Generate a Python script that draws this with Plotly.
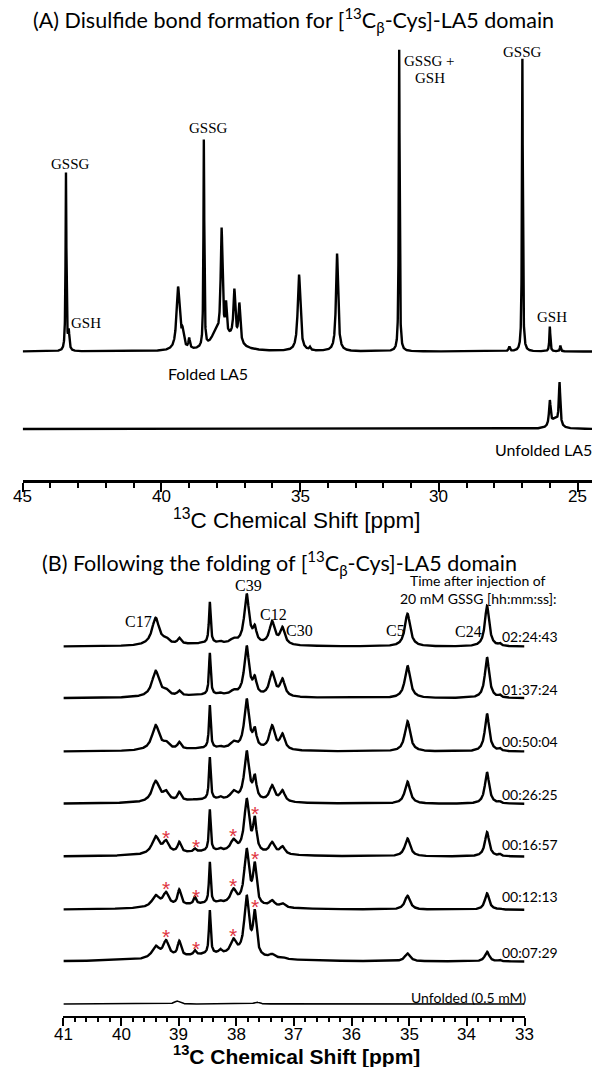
import numpy as np
import plotly.graph_objects as go

W, H = 592, 1067

# ---------------- Panel A data ----------------
A_x_range = [45.0, 24.48]
# Folded LA5 + glutathione peaks: position (ppm), apparent height, line width (ppm)
A_fold_ppm    = [43.44, 43.34, 39.40, 39.24, 39.00, 38.47, 37.83, 37.67, 37.37, 37.19, 35.04, 34.65, 33.67, 31.43, 27.46, 26.99, 26.00, 25.62]
A_fold_height = [179,   23,    65,    25,    14,    213,   124,   51,    63,    49,    77,    5,     98,    302,   5,     294,   25,    6]
A_fold_width  = [0.035, 0.05,  0.13,  0.10,  0.06,  0.035, 0.08,  0.06,  0.08,  0.08,  0.11,  0.06,  0.09,  0.035, 0.06,  0.035, 0.04,  0.04]
A_fold_broad_ppm    = [38.05, 37.50]
A_fold_broad_height = [14, 12]
A_fold_broad_width  = [0.40, 0.70]

# Unfolded LA5 peaks
A_unf_ppm    = [26.00, 25.65]
A_unf_height = [29, 47]
A_unf_width  = [0.07, 0.06]
A_unf_broad_ppm    = [25.82]
A_unf_broad_height = [9]
A_unf_broad_width  = [0.30]

A_ticks = [45, 40, 35, 30, 25]

# ---------------- Panel B data ----------------
B_x_range = [41.0, 33.0]
B_ppm   = [39.40, 39.22, 38.99, 38.72, 38.46, 38.28, 38.05, 37.82, 37.68, 37.38, 37.20, 35.03, 33.65, 33.43]
B_width = [0.15,  0.12,  0.07,  0.05,  0.035, 0.06,  0.12,  0.10,  0.07,  0.11,  0.10,  0.11,  0.09,  0.05]

time_labels = ["02:24:43", "01:37:24", "00:50:04", "00:26:25", "00:16:57", "00:12:13", "00:07:29"]
B_h_022443 = [29.0, 10.0, 9.0, 3.0, 45.0, 6.0, 9.0, 53.0, 22.0, 26.0, 20.0, 33.0, 41.0, 4.0]
B_h_013724 = [27.6, 10.0, 8.0, 3.0, 45.6, 6.0, 9.0, 52.6, 23.0, 26.6, 20.0, 32.6, 41.0, 4.0]
B_h_005004 = [26.7, 11.0, 10.0, 3.0, 46.7, 6.0, 11.0, 53.0, 25.0, 26.7, 18.4, 30.6, 38.0, 4.0]
B_h_002625 = [23.3, 14.0, 12.3, 5.0, 47.0, 8.0, 14.0, 53.3, 30.0, 19.0, 14.0, 22.3, 31.7, 3.0]
B_h_001657 = [20.7, 16.7, 15.0, 8.4, 47.4, 9.0, 18.0, 58.4, 40.7, 15.0, 10.7, 18.3, 24.6, 3.0]
B_h_001213 = [15.0, 18.3, 20.7, 13.3, 48.3, 10.0, 21.7, 61.7, 48.3, 10.0, 7.0, 14.3, 16.7, 2.0]
B_h_000729 = [16.0, 21.7, 21.0, 11.7, 51.7, 13.0, 23.4, 66.7, 52.4, 8.0, 5.0, 8.4, 10.0, 2.0]
B_heights = [B_h_022443, B_h_013724, B_h_005004, B_h_002625, B_h_001657, B_h_001213, B_h_000729]
B_broad_ppm = 38.4
B_broad_width = 1.6
B_broad_height = [3, 3, 3, 4, 5, 6, 7]

B_unf_ppm    = [39.03, 37.65]
B_unf_height = [3, 2]
B_unf_width  = [0.10, 0.10]

B_ticks = [41, 40, 39, 38, 37, 36, 35, 34, 33]
asterisk_ppm = [39.22, 38.70, 38.05, 37.68]
asterisk_traces = [4, 5, 6]

# ---------------- layout constants (pixels) ----------------
A_axis_px = 480
A_offsets = [A_axis_px - 351.5, A_axis_px - 429]          # folded, unfolded baselines
B_axis_px = 1016
B_top_px = 575
B_offsets = [B_axis_px - b for b in [646.7, 698.3, 751.7, 804, 856.7, 910, 961.7]]
B_unf_offset = B_axis_px - 1004


def lorentz(x, c, w):
    hw = w / 2.0
    return hw ** 2 / ((x - c) ** 2 + hw ** 2)


def spectrum(x, ppm, target, width, bppm=(), bh=(), bw=()):
    ppm = np.asarray(ppm, float)
    target = np.asarray(target, float)
    width = np.asarray(width, float)
    y = np.zeros_like(x)
    broad_at = np.zeros(len(ppm))
    for c, h, w in zip(bppm, bh, bw):
        broad_at += h * lorentz(ppm, c, w)
        y += h * lorentz(x, c, w)
    M = np.array([[lorentz(pi, cj, wj) for cj, wj in zip(ppm, width)] for pi in ppm])
    h = np.clip(np.linalg.solve(M, target - broad_at), 0, None)
    for c, hh, w in zip(ppm, h, width):
        y += hh * lorentz(x, c, w)
    return y


fig = go.Figure()
LW = 2.4

# Panel A traces
xa = np.linspace(A_x_range[0], A_x_range[1], 8000)
ya_f = spectrum(xa, A_fold_ppm, A_fold_height, A_fold_width,
                A_fold_broad_ppm, A_fold_broad_height, A_fold_broad_width)
ya_u = spectrum(xa, A_unf_ppm, A_unf_height, A_unf_width,
                A_unf_broad_ppm, A_unf_broad_height, A_unf_broad_width)
for yy, off in zip([ya_f, ya_u], A_offsets):
    fig.add_trace(go.Scatter(x=xa, y=yy + off, mode="lines", line=dict(color="black", width=LW),
                             xaxis="x", yaxis="y", hoverinfo="skip"))

# Panel B traces
xb = np.linspace(B_x_range[0], B_x_range[1], 4000)
B_spectra = []
for hts, bh, off in zip(B_heights, B_broad_height, B_offsets):
    yy = spectrum(xb, B_ppm, hts, B_width, [B_broad_ppm], [bh], [B_broad_width])
    B_spectra.append(yy)
    fig.add_trace(go.Scatter(x=xb, y=yy + off, mode="lines", line=dict(color="black", width=LW),
                             xaxis="x2", yaxis="y2", hoverinfo="skip"))
yb_u = spectrum(xb, B_unf_ppm, B_unf_height, B_unf_width)
fig.add_trace(go.Scatter(x=xb, y=yb_u + B_unf_offset, mode="lines", line=dict(color="black", width=1.6),
                         xaxis="x2", yaxis="y2", hoverinfo="skip"))

# annotations
anns = []


def ann(text, x, y, size, family, color="black", xanchor="center"):
    anns.append(dict(text=text, x=x / W, y=1 - y / H, xref="paper", yref="paper",
                     xanchor=xanchor, yanchor="middle", showarrow=False,
                     font=dict(size=size, family=family, color=color)))


CAL = "Lato"
SERIF = "Liberation Serif"
SANS = "Liberation Sans"

ann("(A) Disulfide bond formation for [<sup>13</sup>C<sub>β</sub>-Cys]-LA5 domain", 293.6, 20, 21.5, CAL)
for t, x, y in [("GSSG", 70, 164), ("GSH", 86.4, 322.7), ("GSSG", 208.7, 127.7), ("GSSG +", 429, 61),
                ("GSH", 430, 78.3), ("GSSG", 522, 51.7), ("GSH", 551.7, 316.7)]:
    ann(t, x, y, 15, SERIF)
ann("Folded LA5", 207.5, 373.3, 16, CAL)
ann("Unfolded LA5", 543.8, 450, 16, CAL)
ann("<sup>13</sup>C Chemical Shift [ppm]", 297, 519, 22.5, SANS)

ann("(B) Following the folding of [<sup>13</sup>C<sub>β</sub>-Cys]-LA5 domain", 279, 563, 21.5, CAL)
ann("Time after injection of", 478.5, 580, 14, CAL)
ann("20 mM GSSG [hh:mm:ss]:", 478.3, 598.3, 14, CAL)
for t, x, y in [("C17", 138.3, 621), ("C39", 248.7, 585.7), ("C12", 273.3, 614.3), ("C30", 299, 630),
                ("C5", 395, 630), ("C24", 468.7, 631)]:
    ann(t, x, y, 16, SERIF)
for t, y in zip(time_labels, [636.7, 689, 741, 794, 844, 896.7, 952.3]):
    ann(t, 530.3, y, 14, CAL)
ann("Unfolded (0.5 mM)", 469, 997, 14, CAL)
ann("<b><sup>13</sup>C Chemical Shift [ppm]</b>", 296.5, 1055, 21, SANS)

# tick labels placed close to the axes, as in the original
for v in A_ticks:
    anns.append(dict(text=str(v), x=v, y=1 - 496 / H, xref="x", yref="paper", xanchor="center",
                     yanchor="middle", showarrow=False, font=dict(size=17, family=SANS, color="black")))
for v in B_ticks:
    anns.append(dict(text=str(v), x=v, y=1 - 1034 / H, xref="x2", yref="paper", xanchor="center",
                     yanchor="middle", showarrow=False, font=dict(size=17, family=SANS, color="black")))

# red asterisks above the transient peaks
for ti in asterisk_traces:
    yy = B_spectra[ti]
    for p in asterisk_ppm:
        i = int(np.argmin(np.abs(xb - p)))
        anns.append(dict(text="*", x=p, y=yy[i] + B_offsets[ti] + 8, xref="x2", yref="y2",
                         xanchor="center", yanchor="middle", yshift=-5, showarrow=False,
                         font=dict(size=21, family=SANS, color="#e0343f")))

axis_common = dict(showline=True, linecolor="black", ticks="outside", tickcolor="black",
                   showgrid=False, zeroline=False, showticklabels=False)

fig.update_layout(
    width=W, height=H, margin=dict(l=0, r=0, t=0, b=0),
    paper_bgcolor="white", plot_bgcolor="white", showlegend=False,
    xaxis=dict(domain=[22.7 / W, 1.0], range=A_x_range, anchor="y", linewidth=2.5,
               ticklen=9, tickwidth=2, tickvals=A_ticks,
               minor=dict(dtick=1, tick0=0, ticklen=5, tickwidth=2, tickcolor="black", ticks="outside",
                          showgrid=False),
               **axis_common),
    yaxis=dict(domain=[(H - A_axis_px) / H, 1.0], range=[0, A_axis_px], visible=False),
    xaxis2=dict(domain=[63.4 / W, 524.5 / W], range=B_x_range, anchor="y2", linewidth=2,
                ticklen=8, tickwidth=2, tickvals=B_ticks,
                minor=dict(dtick=0.2, tick0=0, ticklen=4, tickwidth=1.5, tickcolor="black", ticks="outside",
                           showgrid=False),
                **axis_common),
    yaxis2=dict(domain=[(H - B_axis_px) / H, (H - B_top_px) / H], range=[0, B_axis_px - B_top_px],
                visible=False),
    annotations=anns,
)

fig.write_html("out.html", config={"displayModeBar": False},
               post_script="document.body.style.margin='0';document.body.style.overflow='hidden';")
